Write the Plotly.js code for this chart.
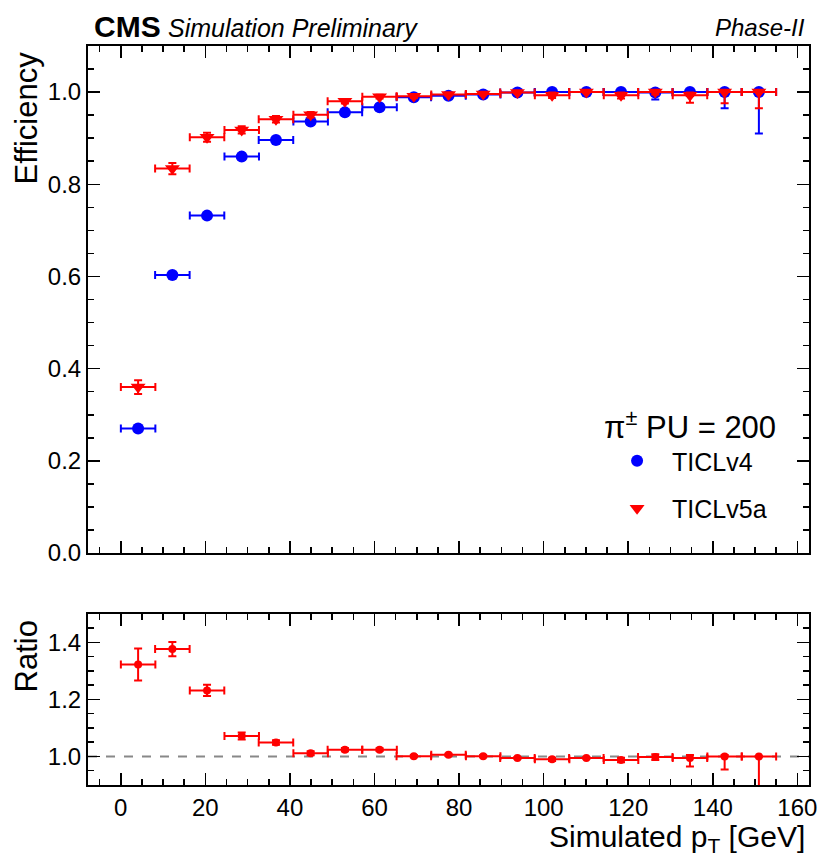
<!DOCTYPE html>
<html>
<head>
<meta charset="utf-8">
<script src="https://cdn.plot.ly/plotly-3.0.1.min.js"></script>
<style>html,body{margin:0;padding:0;background:#fff;}#plot{width:819px;height:858px;}</style>
</head>
<body>
<div id="plot"></div>
<script>
// ---- data ----
const ptCenters = [4.1, 12.2, 20.4, 28.6, 36.7, 44.9, 53.0, 61.2, 69.3, 77.5, 85.7, 93.8, 102.0, 110.1, 118.3, 126.4, 134.6, 142.8, 150.9];
const ptHalfWidth = [4.08, 4.08, 4.08, 4.08, 4.08, 4.08, 4.08, 4.08, 4.08, 4.08, 4.08, 4.08, 4.08, 4.08, 4.08, 4.08, 4.08, 4.08, 4.08];

const effV4 = [0.270, 0.603, 0.732, 0.860, 0.896, 0.936, 0.956, 0.967, 0.989, 0.992, 0.995, 0.999, 1.000, 1.000, 1.000, 0.999, 1.000, 1.000, 1.000];
const effV4ErrLo = [0.005, 0.006, 0.006, 0.006, 0.005, 0.005, 0.004, 0.004, 0.003, 0.003, 0.003, 0.002, 0.002, 0.003, 0.004, 0.015, 0.008, 0.035, 0.090];
const effV4ErrHi = [0.005, 0.006, 0.006, 0.006, 0.005, 0.005, 0.004, 0.004, 0.003, 0.003, 0.002, 0.001, 0.000, 0.000, 0.000, 0.001, 0.000, 0.000, 0.000];

const effV5a = [0.360, 0.834, 0.902, 0.918, 0.941, 0.951, 0.980, 0.990, 0.991, 0.995, 0.996, 0.999, 0.993, 1.000, 0.993, 1.000, 0.993, 1.000, 1.000];
const effV5aErrLo = [0.015, 0.012, 0.010, 0.008, 0.007, 0.006, 0.005, 0.004, 0.004, 0.003, 0.003, 0.002, 0.006, 0.002, 0.007, 0.005, 0.016, 0.024, 0.035];
const effV5aErrHi = [0.015, 0.012, 0.010, 0.008, 0.007, 0.006, 0.005, 0.004, 0.004, 0.003, 0.003, 0.001, 0.006, 0.000, 0.006, 0.000, 0.006, 0.000, 0.000];

const ratio = [1.323, 1.377, 1.232, 1.072, 1.049, 1.011, 1.024, 1.024, 1.001, 1.006, 1.001, 0.995, 0.990, 0.995, 0.988, 0.998, 0.995, 1.000, 1.000];
const ratioErrLo = [0.056, 0.025, 0.020, 0.012, 0.008, 0.007, 0.006, 0.005, 0.004, 0.004, 0.004, 0.003, 0.006, 0.003, 0.008, 0.010, 0.030, 0.046, 0.120];
const ratioErrHi = [0.056, 0.025, 0.020, 0.012, 0.008, 0.007, 0.006, 0.005, 0.004, 0.004, 0.004, 0.003, 0.006, 0.003, 0.008, 0.010, 0.010, 0.005, 0.000];

const seriesNames = ["TICLv4", "TICLv5a"];
const ratioReference = 1.0;
const legendTitle = "\u03c0<sup>\u00b1</sup> PU = 200";

// ---- style ----
const FONT = "Liberation Sans, Arial, Helvetica, sans-serif";
const BLUE = "#0000ff", RED = "#ff0000";

function errX(color) { return {type: "data", array: ptHalfWidth, visible: true, color: color, thickness: 2, width: 4}; }
function errY(hi, lo, color) { return {type: "data", symmetric: false, array: hi, arrayminus: lo, visible: true, color: color, thickness: 2, width: 4}; }

const traces = [
  {x: ptCenters, y: effV4, type: "scatter", mode: "markers", name: seriesNames[0], legendgroup: "g1", xaxis: "x2", yaxis: "y2",
   marker: {symbol: "circle", size: 12, color: BLUE}, error_x: errX(BLUE), error_y: errY(effV4ErrHi, effV4ErrLo, BLUE)},
  {x: ptCenters, y: effV5a, type: "scatter", mode: "markers", name: seriesNames[1], legendgroup: "g2", xaxis: "x2", yaxis: "y2",
   marker: {symbol: "triangle-down", size: 13, color: RED}, error_x: errX(RED), error_y: errY(effV5aErrHi, effV5aErrLo, RED)},
  {x: ptCenters, y: ratio, type: "scatter", mode: "markers", name: "ratio", showlegend: false, xaxis: "x", yaxis: "y",
   marker: {symbol: "circle", size: 8, color: RED}, error_x: errX(RED), error_y: errY(ratioErrHi, ratioErrLo, RED)}
];

const axCommon = {
  showline: true, linewidth: 2, linecolor: "#000", mirror: "allticks",
  ticks: "inside", ticklen: 12, tickwidth: 1.5, tickcolor: "#000",
  showgrid: false, zeroline: false,
  tickfont: {family: FONT, size: 24, color: "#000"}
};
const xRange = [-7.75, 162.75];

const layout = {
  width: 819, height: 858,
  margin: {l: 88, r: 10, t: 46, b: 73},
  paper_bgcolor: "#fff", plot_bgcolor: "#fff",
  font: {family: FONT, color: "#000"},
  showlegend: true,
  legend: {x: 0.713, y: 0.524, xanchor: "left", yanchor: "top", bgcolor: "rgba(0,0,0,0)",
           traceorder: "grouped", tracegroupgap: 12,
           font: {family: FONT, size: 25, color: "#000"},
           title: {text: legendTitle, font: {family: FONT, size: 31, color: "#000"}},
           itemwidth: 60},
  xaxis: Object.assign({}, axCommon, {domain: [0, 1], anchor: "y", range: xRange, dtick: 20, tick0: 0,
           minor: {dtick: 5, ticklen: 6, ticks: "inside", tickcolor: "#000", tickwidth: 1.5}}),
  yaxis: Object.assign({}, axCommon, {domain: [0, 0.2314], anchor: "x", range: [0.9, 1.5], dtick: 0.2, tick0: 0,
           tickformat: ".1f", minor: {dtick: 0.05, ticklen: 6, ticks: "inside", tickcolor: "#000", tickwidth: 1.5}}),
  xaxis2: Object.assign({}, axCommon, {domain: [0, 1], anchor: "y2", range: xRange, dtick: 20, tick0: 0, matches: "x",
           showticklabels: false,
           minor: {dtick: 5, ticklen: 6, ticks: "inside", tickcolor: "#000", tickwidth: 1.5}}),
  yaxis2: Object.assign({}, axCommon, {domain: [0.3139, 1], anchor: "x2", range: [0, 1.1], dtick: 0.2, tick0: 0,
           tickformat: ".1f", minor: {dtick: 0.05, ticklen: 6, ticks: "inside", tickcolor: "#000", tickwidth: 1.5}}),
  shapes: [
    {type: "line", xref: "x domain", yref: "y", x0: 0, x1: 1, y0: ratioReference, y1: ratioReference,
     line: {color: "#888", width: 2, dash: "dash"}, layer: "below"}
  ],
  annotations: [
    {text: "<b>CMS</b>", xref: "paper", yref: "paper", x: 0.005, y: 1.026, xanchor: "left", yanchor: "middle",
     showarrow: false, font: {family: FONT, size: 30, color: "#000"}},
    {text: "<i>Simulation Preliminary</i>", xref: "paper", yref: "paper", x: 0.108, y: 1.025, xanchor: "left", yanchor: "middle",
     showarrow: false, font: {family: FONT, size: 25, color: "#000"}},
    {text: "<i>Phase-II</i>", xref: "paper", yref: "paper", x: 0.997, y: 1.025, xanchor: "right", yanchor: "middle",
     showarrow: false, font: {family: FONT, size: 24, color: "#000"}},
    {text: "Efficiency", xref: "paper", yref: "paper", x: -0.086, y: 0.996, xanchor: "center", yanchor: "top",
     textangle: -90, showarrow: false, font: {family: FONT, size: 31, color: "#000"}},
    {text: "Ratio", xref: "paper", yref: "paper", x: -0.084, y: 0.226, xanchor: "center", yanchor: "top",
     textangle: -90, showarrow: false, font: {family: FONT, size: 31, color: "#000"}},
    {text: "Simulated p<sub>T</sub> [GeV]", xref: "paper", yref: "paper", x: 0.997, y: -0.072, xanchor: "right", yanchor: "middle",
     showarrow: false, font: {family: FONT, size: 30, color: "#000"}}
  ]
};

Plotly.newPlot("plot", traces, layout, {staticPlot: true, displayModeBar: false});
</script>
</body>
</html>
